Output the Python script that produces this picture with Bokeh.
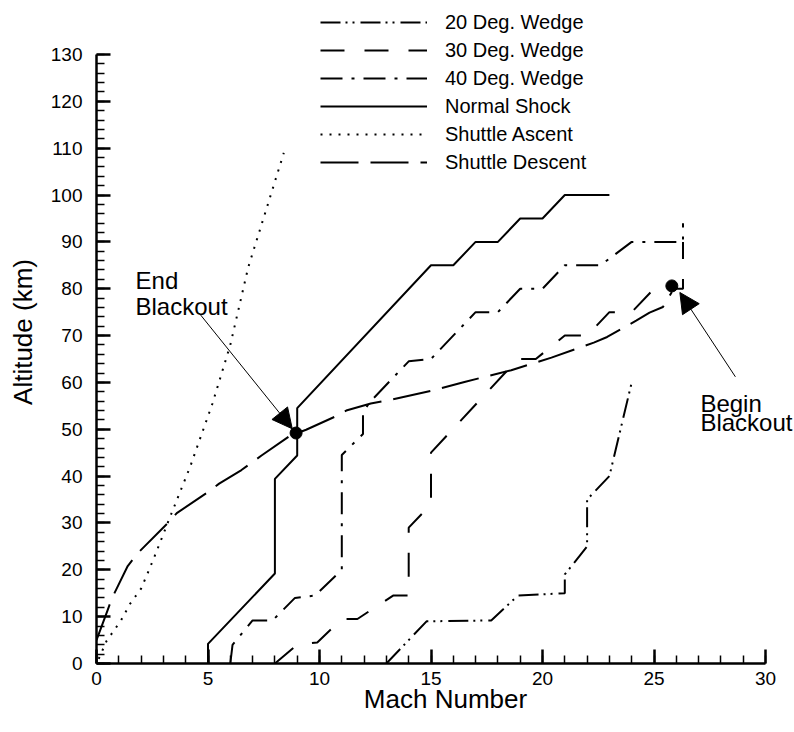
from bokeh.plotting import figure
from bokeh.models import (Range1d, SingleIntervalTicker, Legend, LegendItem,
                          Arrow, NormalHead, Label)
from bokeh.embed import file_html
from bokeh.resources import INLINE

# ---------------- data ----------------
mach_20 = [13.0, 14.8, 17.7, 18.9, 21.0, 21.0, 22.0, 22.0, 23.0, 24.0]
alt_20 = [0.0, 9.0, 9.2, 14.5, 15.0, 19.0, 25.0, 35.0, 40.0, 60.0]

mach_30 = [8.0, 9.0, 9.9, 11.0, 11.7, 13.3, 14.0, 14.0, 15.0, 15.0, 18.9, 19.7,
           21.0, 22.0, 23.0, 24.0, 25.0, 26.3, 26.3]
alt_30 = [0.0, 4.0, 4.5, 9.5, 9.5, 14.5, 14.5, 29.0, 34.0, 45.0, 65.0, 65.0,
          70.0, 70.0, 75.0, 75.0, 80.0, 80.0, 90.0]

mach_40 = [6.0, 6.1, 7.0, 7.9, 8.9, 9.8, 11.0, 11.0, 11.95, 11.95, 12.2, 14.0,
           15.0, 17.0, 18.0, 19.0, 20.0, 21.0, 22.6, 24.0, 26.3, 26.3]
alt_40 = [0.0, 4.0, 9.2, 9.2, 14.0, 14.5, 20.0, 44.5, 49.0, 53.3, 55.5, 64.5,
          65.0, 75.0, 75.0, 80.0, 80.0, 85.0, 85.0, 90.0, 90.0, 94.0]

mach_ns = [5.0, 5.0, 8.0, 8.0, 9.0, 9.0, 15.0, 16.0, 17.0, 18.0, 19.0, 20.0, 21.0, 23.0]
alt_ns = [0.0, 4.2, 19.2, 39.4, 44.4, 54.5, 85.0, 85.0, 90.0, 90.0, 95.0, 95.0, 100.0, 100.0]

mach_asc = [0.1, 0.45, 1.1, 1.5, 2.0, 2.35, 2.7, 3.3, 4.2, 5.2, 6.0, 6.8, 7.65, 8.4]
alt_asc = [1.0, 4.8, 9.2, 12.7, 16.0, 19.9, 24.0, 31.3, 42.0, 55.5, 68.0, 84.5, 97.5, 109.0]

mach_des = [0.0, 0.5, 0.7, 1.4, 1.8, 3.2, 3.6, 5.0, 5.5, 6.5, 7.4, 8.7, 9.0, 9.4,
            10.7, 11.2, 12.3, 13.2, 15.1, 16.5, 18.6, 20.4, 22.3, 22.9, 24.2,
            24.8, 25.4, 25.8]
alt_des = [5.0, 11.4, 14.0, 20.8, 23.3, 30.0, 32.1, 36.6, 38.4, 41.3, 44.4, 48.7,
           49.2, 49.9, 52.7, 54.0, 55.5, 56.3, 58.3, 60.1, 62.6, 65.3, 68.5, 69.7,
           73.2, 74.9, 76.1, 79.3]

blackout_mach = [8.95, 25.8]
blackout_alt = [49.2, 80.6]

series_names = ["20 Deg. Wedge", "30 Deg. Wedge", "40 Deg. Wedge",
                "Normal Shock", "Shuttle Ascent", "Shuttle Descent"]
x_ticks_interval = 5
y_ticks_interval = 10

# ---------------- figure ----------------
W, H = 794, 732
L, B = 96, 69
frame_w = W - L          # 698 px, Mach 30 at 669 px
frame_h = H - B          # 663 px, 130 km at 609 px
x_end = 30 * frame_w / 669.0
y_end = 130 * frame_h / 609.0

p = figure(width=W, height=H, output_backend="svg", toolbar_location=None,
           x_range=Range1d(0, x_end), y_range=Range1d(0, y_end),
           min_border_left=L, min_border_bottom=B, min_border_top=0,
           min_border_right=0, background_fill_color="white",
           border_fill_color="white")
p.outline_line_color = None
p.grid.visible = False

FONT = "Liberation Sans"

for ax in (p.xaxis[0], p.yaxis[0]):
    ax.axis_line_width = 2.5
    ax.axis_line_color = "black"
    ax.major_tick_in = 14
    ax.major_tick_out = 0
    ax.minor_tick_in = 8
    ax.minor_tick_out = 0
    ax.major_tick_line_width = 2.5
    ax.minor_tick_line_width = 1.5
    ax.major_tick_line_color = "black"
    ax.minor_tick_line_color = "black"
    ax.major_label_text_font = FONT
    ax.major_label_text_font_size = "19px"
    ax.major_label_text_color = "black"
    ax.axis_label_text_font = FONT
    ax.axis_label_text_font_size = "26px"
    ax.axis_label_text_font_style = "normal"
    ax.axis_label_text_color = "black"

p.xaxis.ticker = SingleIntervalTicker(interval=x_ticks_interval, num_minor_ticks=5)
p.yaxis.ticker = SingleIntervalTicker(interval=y_ticks_interval, num_minor_ticks=5)
p.xaxis.bounds = (0, 30)
p.yaxis.bounds = (0, 130)
p.xaxis.axis_label = "Mach Number"
p.yaxis.axis_label = "Altitude (km)"
p.xaxis.major_label_standoff = 8
p.yaxis.major_label_standoff = 14
p.xaxis.axis_label_standoff = -4
p.yaxis.axis_label_standoff = 10

# ---------------- curves ----------------
r20 = p.line(mach_20, alt_20, line_color="black", line_width=2,
             line_dash="20 5 2 5 2 6")
r30 = p.line(mach_30, alt_30, line_color="black", line_width=2,
             line_dash="24 20")
r40 = p.line(mach_40, alt_40, line_color="black", line_width=2,
             line_dash="22 9 3 9")
rns = p.line(mach_ns, alt_ns, line_color="black", line_width=2)
rasc = p.line(mach_asc, alt_asc, line_color="black", line_width=2,
              line_dash="2 7")
rdes = p.line(mach_des, alt_des, line_color="black", line_width=2,
              line_dash="38 12")

p.scatter(blackout_mach, blackout_alt, size=12, color="black")

legend = Legend(items=[LegendItem(label=n, renderers=[r]) for n, r in
                       zip(series_names, [r20, r30, r40, rns, rasc, rdes])],
                location=(224, frame_h - 176), padding=0, margin=0, spacing=0,
                glyph_width=107, glyph_height=28, label_height=28,
                label_standoff=18, border_line_color=None,
                background_fill_alpha=0, label_text_font=FONT,
                label_text_font_size="20px", label_text_color="black")
p.add_layout(legend, "center")

# ---------------- annotations ----------------
p.add_layout(Arrow(x_start=4.6, y_start=74.8, x_end=8.78, y_end=50.1,
                   line_width=1, line_color="black",
                   end=NormalHead(size=20, fill_color="black", line_color="black")))
p.add_layout(Arrow(x_start=28.65, y_start=61.2, x_end=26.16, y_end=79.2,
                   line_width=1, line_color="black",
                   end=NormalHead(size=20, fill_color="black", line_color="black")))

for txt, x, y in [("End", 1.75, 81.7), ("Blackout", 1.75, 76.3),
                  ("Begin", 27.08, 55.4), ("Blackout", 27.08, 51.4)]:
    p.add_layout(Label(x=x, y=y, text=txt, text_font=FONT,
                       text_font_size="24px", text_color="black",
                       text_baseline="alphabetic", text_align="left"))

open("out.html", "w").write(file_html(p, INLINE))
